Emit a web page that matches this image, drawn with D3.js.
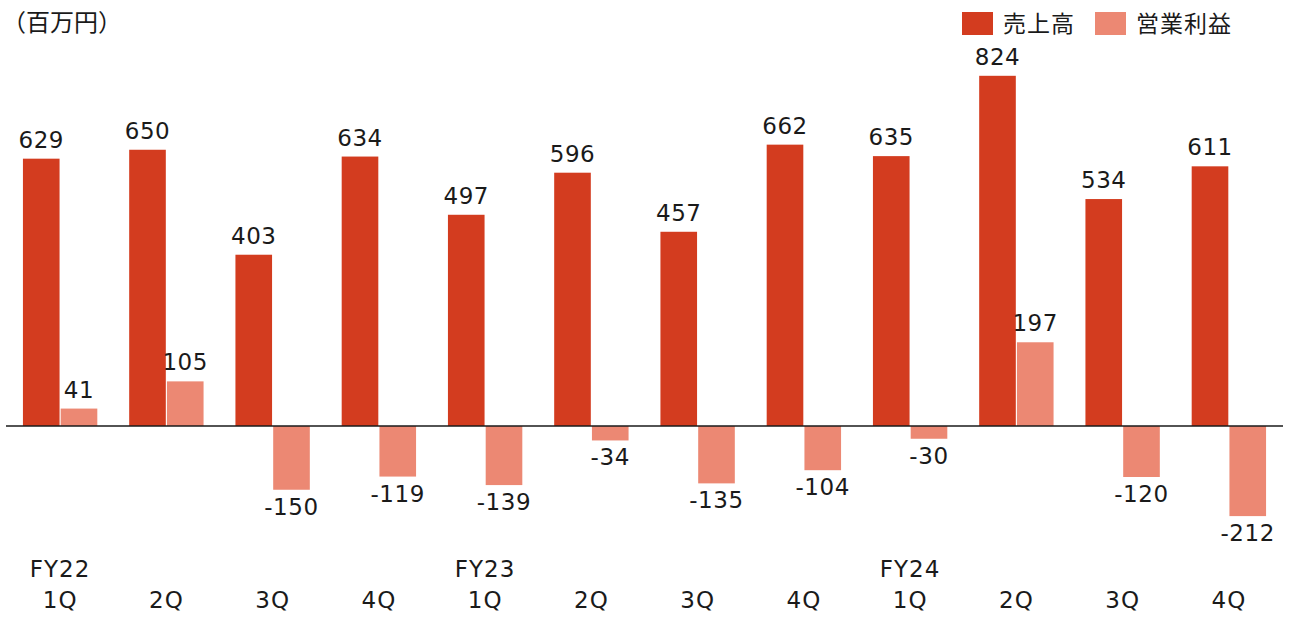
<!DOCTYPE html>
<html>
<head>
<meta charset="utf-8">
<script src="https://cdn.jsdelivr.net/npm/d3@7"></script>
<style>
  body { margin: 0; background: #fff; }
  svg text { font-family: "DejaVu Sans", "Noto Sans CJK JP", sans-serif; fill: #1a1a1a; }
  svg .jp { font-family: "Noto Sans CJK JP", sans-serif; }
</style>
</head>
<body>
<svg id="chart" width="1289" height="617"></svg>
<script>
// 四半期ごとの売上高と営業利益（百万円）
var fiscalYears = ["FY22", "", "", "", "FY23", "", "", "", "FY24", "", "", ""];
var quarters = ["1Q", "2Q", "3Q", "4Q", "1Q", "2Q", "3Q", "4Q", "1Q", "2Q", "3Q", "4Q"];
var sales = [629, 650, 403, 634, 497, 596, 457, 662, 635, 824, 534, 611];
var opIncome = [41, 105, -150, -119, -139, -34, -135, -104, -30, 197, -120, -212];
var seriesNames = ["売上高", "営業利益"];
var unitLabel = "（百万円）";

var colors = ["#d33c1f", "#ec8873"];

var svg = d3.select("#chart");

var x = d3.scaleBand()
  .domain(d3.range(quarters.length))
  .range([7, 1282])
  .paddingInner(0.3)
  .paddingOuter(0.15);

var xs = d3.scaleBand()
  .domain([0, 1])
  .range([0, x.bandwidth()])
  .paddingInner(0.03);

var y = d3.scaleLinear()
  .domain([-300, 900])
  .range([553.5, 43.5]);

var rows = quarters.map(function(q, i) {
  return [{ s: 0, i: i, v: sales[i] }, { s: 1, i: i, v: opIncome[i] }];
});

var groups = svg.append("g").selectAll("g")
  .data(rows)
  .join("g")
    .attr("transform", function(d, i) { return "translate(" + x(i) + ",0)"; });

groups.selectAll("rect")
  .data(function(d) { return d; })
  .join("rect")
    .attr("x", function(d) { return xs(d.s); })
    .attr("width", xs.bandwidth())
    .attr("y", function(d) { return y(Math.max(0, d.v)); })
    .attr("height", function(d) { return Math.abs(y(d.v) - y(0)); })
    .attr("fill", function(d) { return colors[d.s]; });

groups.selectAll("text.val")
  .data(function(d) { return d; })
  .join("text")
    .attr("class", "val")
    .attr("x", function(d) { return xs(d.s) + xs.bandwidth() / 2; })
    .attr("y", function(d) { return d.v >= 0 ? y(d.v) - 11 : y(d.v) + 25; })
    .attr("text-anchor", "middle")
    .attr("font-size", 23)
    .attr("letter-spacing", 0.6)
    .text(function(d) { return d.v; });

// baseline
svg.append("line")
  .attr("x1", 6).attr("x2", 1283)
  .attr("y1", y(0)).attr("y2", y(0))
  .attr("stroke", "#1a1a1a")
  .attr("stroke-width", 1.5);

// category labels
var xAxis = svg.append("g");
xAxis.selectAll("text.fy")
  .data(fiscalYears)
  .join("text")
    .attr("x", function(d, i) { return x(i) + x.bandwidth() / 2; })
    .attr("y", 577)
    .attr("text-anchor", "middle")
    .attr("font-size", 23)
    .attr("letter-spacing", 1)
    .text(function(d) { return d; });
xAxis.selectAll("text.q")
  .data(quarters)
  .join("text")
    .attr("x", function(d, i) { return x(i) + x.bandwidth() / 2; })
    .attr("y", 608)
    .attr("text-anchor", "middle")
    .attr("font-size", 23)
    .attr("letter-spacing", 1)
    .text(function(d) { return d; });

// unit
svg.append("text")
  .attr("class", "jp")
  .attr("x", 2)
  .attr("y", 31)
  .attr("font-size", 24)
  .text(unitLabel);

// legend
var legendX = [962, 1095];
var legend = svg.append("g").selectAll("g")
  .data(seriesNames)
  .join("g")
    .attr("transform", function(d, i) { return "translate(" + legendX[i] + ",12)"; });
legend.append("rect")
  .attr("width", 31).attr("height", 23)
  .attr("fill", function(d, i) { return colors[i]; });
legend.append("text")
  .attr("class", "jp")
  .attr("x", 41)
  .attr("y", 20)
  .attr("font-size", 23)
  .attr("letter-spacing", 1)
  .text(function(d) { return d; });
</script>
</body>
</html>
